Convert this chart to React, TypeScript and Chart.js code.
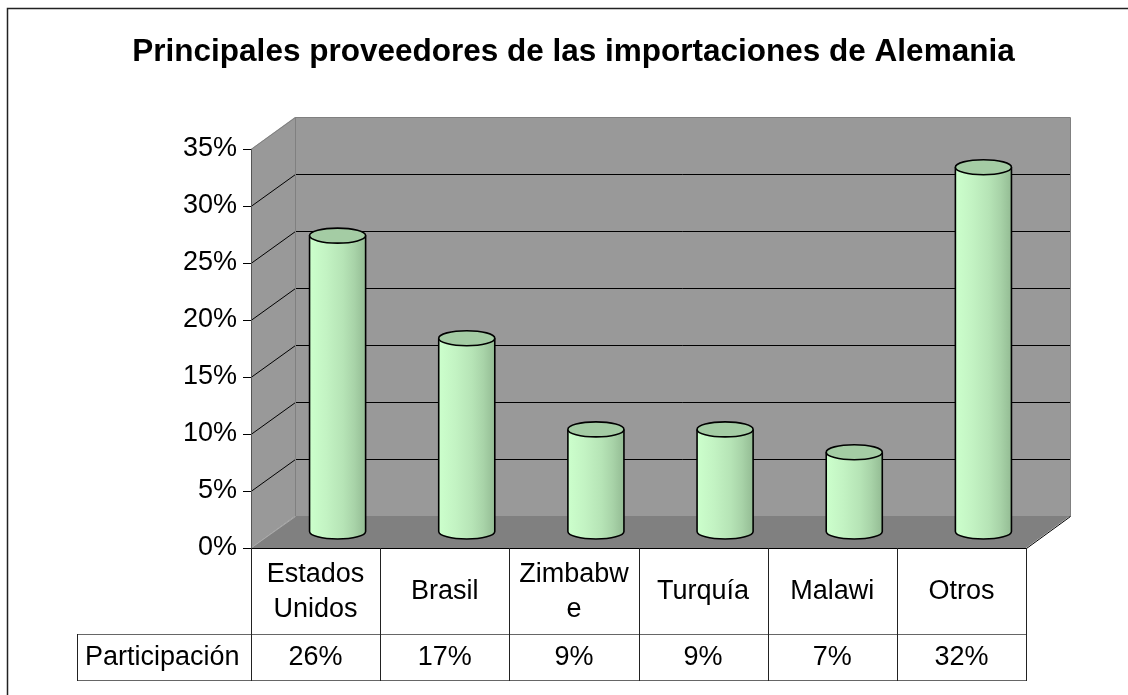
import React, { useEffect, useRef } from 'react';
import { Chart, registerables } from 'chart.js';

Chart.register(...registerables);

// ---------- data ----------
const chartTitle = 'Principales proveedores de las importaciones de Alemania';
const categories: (string | string[])[] = [['Estados', 'Unidos'], 'Brasil', ['Zimbabw', 'e'], 'Turquía', 'Malawi', 'Otros'];
const seriesName = 'Participación';
const participacion = [26, 17, 9, 9, 7, 32];
const yMin = 0;
const yMax = 35;
const yStep = 5;

// ---------- style ----------
const FONT = "'Liberation Sans', Arial, sans-serif";
const DX = 44;
const DY = -32;
const ROW1_H = 86;
const ROW2_H = 46;
const TABLE_LEFT = 77;

const px = (v: number) => Math.round(v) + 0.5;

const threeDPlugin = {
  id: 'threeD',
  beforeDraw(chart: any) {
    const { ctx, chartArea: a, scales } = chart;
    const ys = scales.y;
    const L = Math.round(a.left), R = Math.round(a.right), T = Math.round(a.top), B = Math.round(a.bottom);
    const bl = L + DX, br = R + DX, bt = T + DY, bb = B + DY;
    ctx.save();
    ctx.fillStyle = '#ffffff';
    ctx.fillRect(0, 0, chart.width, chart.height);
    // back wall
    ctx.fillStyle = '#999999';
    ctx.fillRect(bl, bt, br - bl, bb - bt);
    // left wall
    ctx.beginPath();
    ctx.moveTo(L, T); ctx.lineTo(bl, bt); ctx.lineTo(bl, bb); ctx.lineTo(L, B); ctx.closePath();
    ctx.fillStyle = '#999999';
    ctx.fill();
    // floor
    ctx.beginPath();
    ctx.moveTo(L, B); ctx.lineTo(bl, bb); ctx.lineTo(br, bb); ctx.lineTo(R, B); ctx.closePath();
    ctx.fillStyle = '#808080';
    ctx.fill();
    // grid lines on walls
    ctx.lineWidth = 1;
    ys.ticks.forEach((t: any) => {
      if (t.value === yMin || t.value === yMax) return;
      const py = Math.round(ys.getPixelForValue(t.value));
      ctx.strokeStyle = '#000000';
      ctx.beginPath();
      ctx.moveTo(L, py + 0.5);
      ctx.lineTo(bl + 0.5, py + DY + 0.5);
      ctx.lineTo(br, py + DY + 0.5);
      ctx.stroke();
    });
    // wall edges
    ctx.strokeStyle = '#808080';
    ctx.beginPath();
    ctx.moveTo(L, T + 0.5); ctx.lineTo(bl + 0.5, bt + 0.5); ctx.lineTo(br + 0.5, bt + 0.5); ctx.lineTo(br + 0.5, bb + 0.5);
    ctx.moveTo(bl + 0.5, bt + 0.5); ctx.lineTo(bl + 0.5, bb + 0.5); ctx.lineTo(br, bb + 0.5);
    ctx.stroke();
    ctx.strokeStyle = '#aaaaaa';
    ctx.beginPath();
    ctx.moveTo(L, B); ctx.lineTo(bl + 0.5, bb + 0.5);
    ctx.stroke();
    ctx.strokeStyle = '#000000';
    ctx.beginPath();
    ctx.moveTo(R + 0.5, B + 0.5); ctx.lineTo(br + 0.5, bb + 0.5);
    ctx.stroke();
    ctx.restore();
  },
  afterDatasetsDraw(chart: any) {
    const { ctx } = chart;
    const meta = chart.getDatasetMeta(0);
    meta.data.forEach((bar: any) => {
      const { x, y, base, width } = bar.getProps(['x', 'y', 'base', 'width'], true);
      const cx = x + DX / 2;
      const top = y + DY / 2;
      const bottom = base + DY / 2;
      const rx = width / 2;
      const ry = 7.5;
      ctx.save();
      const g = ctx.createLinearGradient(cx - rx, 0, cx + rx, 0);
      g.addColorStop(0, '#CCFFCC');
      g.addColorStop(0.3, '#C3F3C3');
      g.addColorStop(0.6, '#B6E4B6');
      g.addColorStop(0.8, '#A8D3A8');
      g.addColorStop(1, '#94BC94');
      ctx.beginPath();
      ctx.moveTo(cx - rx, top);
      ctx.lineTo(cx - rx, bottom);
      ctx.ellipse(cx, bottom, rx, ry, 0, Math.PI, 0, true);
      ctx.lineTo(cx + rx, top);
      ctx.closePath();
      ctx.fillStyle = g;
      ctx.fill();
      ctx.beginPath();
      ctx.moveTo(cx - rx, top);
      ctx.lineTo(cx - rx, bottom);
      ctx.ellipse(cx, bottom, rx, ry, 0, Math.PI, 0, true);
      ctx.lineTo(cx + rx, top);
      ctx.strokeStyle = '#000000';
      ctx.lineWidth = 1.6;
      ctx.stroke();
      ctx.beginPath();
      ctx.ellipse(cx, top, rx, ry, 0, 0, Math.PI * 2);
      ctx.fillStyle = '#A4CCA4';
      ctx.fill();
      ctx.stroke();
      ctx.restore();
    });
  },
  afterDraw(chart: any) {
    const { ctx, chartArea: a, scales } = chart;
    const xs = scales.x;
    const n = categories.length;
    const colW = xs.getPixelForValue(1) - xs.getPixelForValue(0);
    const L = Math.round(a.left), R = Math.round(a.right), B = Math.round(a.bottom);
    const r1b = B + ROW1_H;
    const r2b = r1b + ROW2_H;
    ctx.save();
    // horizontal lines
    ctx.lineWidth = 1;
    ctx.strokeStyle = '#000000';
    ctx.beginPath();
    ctx.moveTo(L, B + 0.5); ctx.lineTo(R + 1, B + 0.5);
    ctx.stroke();
    ctx.strokeStyle = '#666666';
    ctx.beginPath();
    ctx.moveTo(TABLE_LEFT, r1b + 0.5); ctx.lineTo(R + 1, r1b + 0.5);
    ctx.moveTo(TABLE_LEFT, r2b + 0.5); ctx.lineTo(R + 1, r2b + 0.5);
    ctx.stroke();
    // vertical lines
    ctx.strokeStyle = '#222222';
    ctx.beginPath();
    ctx.moveTo(TABLE_LEFT + 0.5, r1b); ctx.lineTo(TABLE_LEFT + 0.5, r2b + 1);
    for (let i = 0; i <= n; i++) {
      const bx = px(xs.getPixelForValue(0) - colW / 2 + i * colW);
      ctx.moveTo(bx, B); ctx.lineTo(bx, r2b + 1);
    }
    ctx.stroke();
    // texts
    ctx.fillStyle = '#000000';
    ctx.font = `27px ${FONT}`;
    ctx.textAlign = 'center';
    ctx.textBaseline = 'middle';
    const r1c = B + ROW1_H / 2 + 1;
    const r2c = r1b + ROW2_H / 2 + 1;
    const lh = 35;
    categories.forEach((c, i) => {
      const cx = xs.getPixelForValue(i);
      const lines = Array.isArray(c) ? c : [c];
      lines.forEach((ln, j) => {
        ctx.fillText(ln, cx, r1c + (j - (lines.length - 1) / 2) * lh);
      });
      ctx.fillText(participacion[i] + '%', cx, r2c);
    });
    ctx.textAlign = 'left';
    ctx.fillText(seriesName, TABLE_LEFT + 8, r2c);
    // outer frame
    ctx.strokeStyle = '#222222';
    ctx.lineWidth = 1.5;
    ctx.strokeRect(7.5, 8.5, chart.width + 20, chart.height + 20);
    ctx.restore();
  },
};

export default function App() {
  const ref = useRef<HTMLCanvasElement>(null);
  useEffect(() => {
    if (!ref.current) return;
    const chart = new Chart(ref.current, {
      type: 'bar',
      data: {
        labels: categories as any,
        datasets: [
          {
            label: seriesName,
            data: participacion,
            backgroundColor: 'rgba(0,0,0,0)',
            borderWidth: 0,
            barPercentage: 0.434,
            categoryPercentage: 1,
          },
        ],
      },
      options: {
        responsive: false,
        animation: false,
        devicePixelRatio: 1,
        layout: { padding: { left: 19, right: 0, top: 0, bottom: 147 } },
        plugins: {
          legend: { display: false },
          tooltip: { enabled: false },
          title: {
            display: true,
            text: chartTitle,
            color: '#000000',
            font: { family: FONT, size: 31.5, weight: 'bold', lineHeight: 1.2 },
            padding: { top: 33, bottom: 78.2 },
          },
        },
        scales: {
          x: { display: false },
          y: {
            min: yMin,
            max: yMax,
            ticks: {
              stepSize: yStep,
              color: '#000000',
              padding: 6,
              font: { family: FONT, size: 27 },
              callback: (v: any) => v + '%',
            },
            grid: { drawOnChartArea: false, drawTicks: true, tickLength: 8, color: '#000000' },
            border: { display: true, color: '#555555', width: 1 },
            afterFit: (s: any) => { s.width = 232; },
          },
          y1: {
            position: 'right',
            display: true,
            ticks: { display: false },
            grid: { display: false },
            border: { display: false },
            afterFit: (s: any) => { s.width = 102; },
          },
        },
      },
      plugins: [threeDPlugin],
    });
    return () => chart.destroy();
  }, []);
  return (
    <div style={{ position: 'absolute', left: 0, top: 0, width: 1128, height: 695, background: '#fff' }}>
      <canvas ref={ref} width={1128} height={695} style={{ display: 'block' }} />
    </div>
  );
}
